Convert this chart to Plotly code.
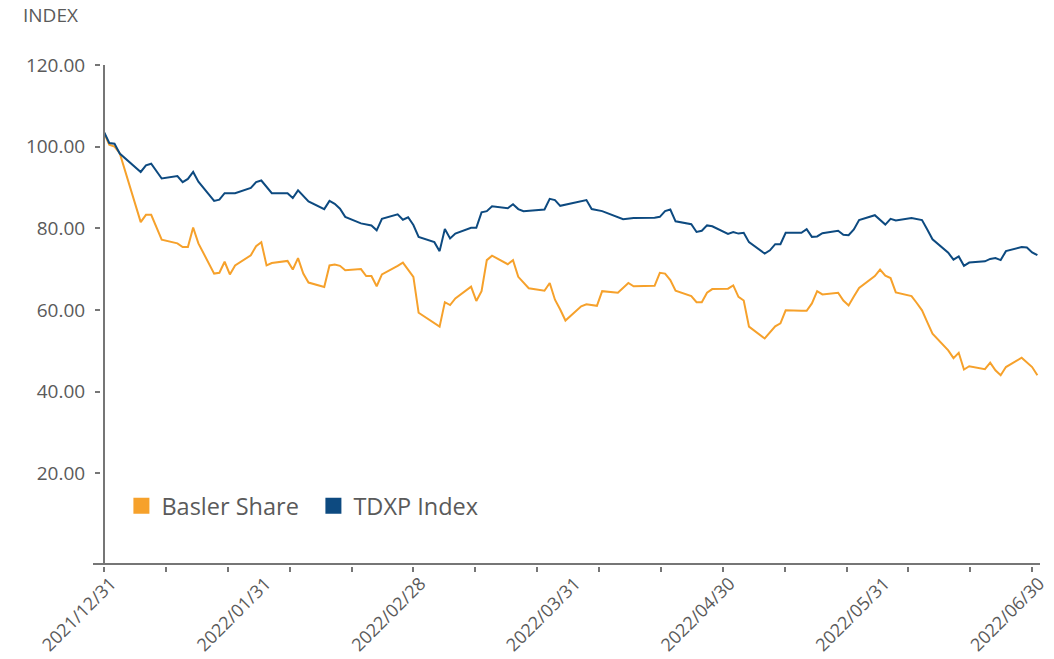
import pandas as pd
import plotly.graph_objects as go

# Basler share, indexed
basler_dates = [
    "2022-01-03", "2022-01-04", "2022-01-05", "2022-01-06", "2022-01-10", "2022-01-11", "2022-01-12",
    "2022-01-14", "2022-01-17", "2022-01-18", "2022-01-19", "2022-01-20", "2022-01-21", "2022-01-24",
    "2022-01-25", "2022-01-26", "2022-01-27", "2022-01-28", "2022-01-31", "2022-02-01", "2022-02-02",
    "2022-02-03", "2022-02-04", "2022-02-07", "2022-02-08", "2022-02-09", "2022-02-10", "2022-02-11",
    "2022-02-14", "2022-02-15", "2022-02-16", "2022-02-17", "2022-02-18", "2022-02-21", "2022-02-22",
    "2022-02-23", "2022-02-24", "2022-02-25", "2022-02-28", "2022-03-01", "2022-03-03", "2022-03-04",
    "2022-03-08", "2022-03-09", "2022-03-10", "2022-03-11", "2022-03-14", "2022-03-15", "2022-03-16",
    "2022-03-17", "2022-03-18", "2022-03-21", "2022-03-22", "2022-03-23", "2022-03-25", "2022-03-28",
    "2022-03-29", "2022-03-30", "2022-03-31", "2022-04-01", "2022-04-04", "2022-04-05", "2022-04-07",
    "2022-04-08", "2022-04-11", "2022-04-13", "2022-04-14", "2022-04-18", "2022-04-19", "2022-04-20",
    "2022-04-21", "2022-04-22", "2022-04-25", "2022-04-26", "2022-04-27", "2022-04-28", "2022-04-29",
    "2022-05-02", "2022-05-03", "2022-05-04", "2022-05-05", "2022-05-06", "2022-05-09", "2022-05-10",
    "2022-05-11", "2022-05-12", "2022-05-13", "2022-05-16", "2022-05-17", "2022-05-18", "2022-05-19",
    "2022-05-20", "2022-05-23", "2022-05-24", "2022-05-25", "2022-05-26", "2022-05-27", "2022-05-30",
    "2022-05-31", "2022-06-01", "2022-06-02", "2022-06-03", "2022-06-06", "2022-06-07", "2022-06-08",
    "2022-06-09", "2022-06-10", "2022-06-13", "2022-06-14", "2022-06-15", "2022-06-16", "2022-06-17",
    "2022-06-20", "2022-06-21", "2022-06-22", "2022-06-23", "2022-06-24", "2022-06-27", "2022-06-28",
    "2022-06-29", "2022-06-30",
]
basler_vals = [
    103.4, 100.5, 100.0, 98.4, 81.5, 83.3, 83.3,
    77.2, 76.3, 75.4, 75.4, 80.2, 76.3, 68.9,
    69.1, 71.8, 68.7, 70.9, 73.4, 75.6, 76.6,
    70.9, 71.5, 72.0, 69.9, 72.7, 68.9, 66.7,
    65.6, 70.9, 71.1, 70.8, 69.7, 70.0, 68.3,
    68.3, 65.8, 68.7, 70.8, 71.6, 68.1, 59.3,
    55.9, 61.9, 61.2, 62.8, 65.7, 62.2, 64.6,
    72.2, 73.3, 71.2, 72.2, 68.1, 65.3, 64.7,
    66.6, 62.5, 60.1, 57.4, 60.9, 61.4, 61.0,
    64.6, 64.2, 66.6, 65.8, 65.9, 69.1, 68.9,
    67.3, 64.7, 63.4, 61.9, 61.9, 64.2, 65.1,
    65.2, 66.0, 63.2, 62.3, 55.9, 53.0, 54.5,
    56.0, 56.7, 59.9, 59.8, 59.8, 61.6, 64.6,
    63.8, 64.2, 62.3, 61.1, 63.3, 65.4, 68.3,
    69.9, 68.4, 67.8, 64.3, 63.4, 61.7, 59.9,
    57.0, 54.2, 50.1, 48.2, 49.5, 45.4, 46.2,
    45.5, 47.1, 45.2, 44.0, 46.0, 48.3, 47.2,
    46.0, 44.0,
]

# TDXP index, indexed
tdxp_dates = [
    "2022-01-03", "2022-01-04", "2022-01-05", "2022-01-06", "2022-01-10", "2022-01-11", "2022-01-12",
    "2022-01-14", "2022-01-17", "2022-01-18", "2022-01-19", "2022-01-20", "2022-01-21", "2022-01-24",
    "2022-01-25", "2022-01-26", "2022-01-28", "2022-01-31", "2022-02-01", "2022-02-02", "2022-02-04",
    "2022-02-07", "2022-02-08", "2022-02-09", "2022-02-11", "2022-02-14", "2022-02-15", "2022-02-16",
    "2022-02-17", "2022-02-18", "2022-02-21", "2022-02-23", "2022-02-24", "2022-02-25", "2022-02-28",
    "2022-03-01", "2022-03-02", "2022-03-03", "2022-03-04", "2022-03-07", "2022-03-08", "2022-03-09",
    "2022-03-10", "2022-03-11", "2022-03-14", "2022-03-15", "2022-03-16", "2022-03-17", "2022-03-18",
    "2022-03-21", "2022-03-22", "2022-03-23", "2022-03-24", "2022-03-28", "2022-03-29", "2022-03-30",
    "2022-03-31", "2022-04-05", "2022-04-06", "2022-04-08", "2022-04-12", "2022-04-14", "2022-04-18",
    "2022-04-19", "2022-04-20", "2022-04-21", "2022-04-22", "2022-04-25", "2022-04-26", "2022-04-27",
    "2022-04-28", "2022-04-29", "2022-05-02", "2022-05-03", "2022-05-04", "2022-05-05", "2022-05-06",
    "2022-05-09", "2022-05-10", "2022-05-11", "2022-05-12", "2022-05-13", "2022-05-16", "2022-05-17",
    "2022-05-18", "2022-05-19", "2022-05-20", "2022-05-23", "2022-05-24", "2022-05-25", "2022-05-26",
    "2022-05-27", "2022-05-30", "2022-05-31", "2022-06-01", "2022-06-02", "2022-06-03", "2022-06-06",
    "2022-06-07", "2022-06-08", "2022-06-09", "2022-06-10", "2022-06-13", "2022-06-14", "2022-06-15",
    "2022-06-16", "2022-06-17", "2022-06-20", "2022-06-21", "2022-06-22", "2022-06-23", "2022-06-24",
    "2022-06-27", "2022-06-28", "2022-06-29", "2022-06-30",
]
tdxp_vals = [
    103.6, 100.9, 100.7, 98.3, 93.8, 95.4, 95.8,
    92.2, 92.8, 91.3, 92.1, 93.8, 91.4, 86.7,
    87.0, 88.6, 88.6, 89.9, 91.3, 91.7, 88.6,
    88.6, 87.4, 89.3, 86.6, 84.7, 86.7, 86.0,
    84.8, 82.8, 81.2, 80.7, 79.5, 82.3, 83.4,
    82.1, 82.7, 80.8, 77.9, 76.6, 74.4, 79.8,
    77.5, 78.7, 80.1, 80.1, 83.9, 84.2, 85.4,
    84.9, 85.9, 84.7, 84.2, 84.6, 87.2, 86.9,
    85.5, 86.9, 84.7, 84.2, 82.2, 82.5, 82.6,
    82.8, 84.2, 84.6, 81.7, 81.0, 79.1, 79.4,
    80.7, 80.5, 78.6, 79.1, 78.7, 78.9, 76.6,
    73.8, 74.6, 76.1, 76.1, 78.9, 78.9, 79.8,
    77.9, 78.0, 78.8, 79.4, 78.4, 78.3, 79.7,
    82.0, 83.2, 82.0, 80.9, 82.3, 81.9, 82.5,
    82.3, 82.0, 79.7, 77.3, 74.0, 72.3, 73.1,
    70.8, 71.6, 71.9, 72.5, 72.7, 72.2, 74.4,
    75.4, 75.3, 74.1, 73.4,
]

x_labels = ["2021/12/31", "2022/01/31", "2022/02/28", "2022/03/31",
            "2022/04/30", "2022/05/31", "2022/06/30"]
y_ticks = [20, 40, 60, 80, 100, 120]

ORANGE = "#f6a12b"
NAVY = "#0d4a80"
GREY = "#767676"
TEXT = "#5a5a5a"
FONT = "Open Sans"

# axis scaffolding: labels spread evenly along the axis, 15 short tick marks
start = pd.Timestamp(basler_dates[0])
span = pd.Timedelta(days=177)
label_pos = [start + span * i / 6 for i in range(7)]
tick_pos = [start + span * i / 15 for i in range(16)]
x_range = [start - pd.Timedelta(days=2.1), start + pd.Timedelta(days=178.5)]
y_range = [-2, 120]

fig = go.Figure()

fig.add_trace(go.Scatter(x=pd.to_datetime(basler_dates), y=basler_vals, mode="lines",
                         line=dict(color=ORANGE, width=2), showlegend=False, name="Basler Share"))
fig.add_trace(go.Scatter(x=pd.to_datetime(tdxp_dates), y=tdxp_vals, mode="lines",
                         line=dict(color=NAVY, width=2), showlegend=False, name="TDXP Index"))

# legend entries shown as squares
for name, col in [("Basler Share", ORANGE), ("TDXP Index", NAVY)]:
    fig.add_trace(go.Scatter(x=[None], y=[None], mode="markers", name=name,
                             marker=dict(symbol="square", size=16, color=col),
                             xaxis="x2", yaxis="y2"))

fig.update_layout(
    width=1054, height=659,
    margin=dict(l=93, r=14, t=65, b=93, autoexpand=False),
    paper_bgcolor="white", plot_bgcolor="white",
    font=dict(family=FONT, size=19, color=TEXT),
    xaxis=dict(
        type="date", range=x_range, domain=[0, 1], anchor="y", automargin=False,
        tickmode="array", tickvals=label_pos, ticktext=x_labels, tickangle=-45,
        ticks="", showline=True, linecolor=GREY, linewidth=2, showgrid=False,
        zeroline=False, ticklabelstandoff=1, ticklabelshift=7,
        tickfont=dict(size=18, color=TEXT),
    ),
    xaxis2=dict(
        type="date", range=x_range, overlaying="x", anchor="free", position=0,
        automargin=False,
        tickmode="array", tickvals=tick_pos, showticklabels=False,
        ticks="outside", ticklen=5, tickwidth=2, tickcolor=GREY,
        showline=False, showgrid=False, zeroline=False,
    ),
    yaxis=dict(
        range=y_range, domain=[3 / 501, 1], anchor="free", position=7 / 947,
        automargin=False,
        tickmode="array", tickvals=y_ticks, ticktext=[f"{v:.2f}" for v in y_ticks],
        ticks="outside", ticklen=5, tickwidth=2, tickcolor=GREY,
        showline=False, showgrid=False, zeroline=False, ticklabelstandoff=6,
        tickfont=dict(size=19, color=TEXT),
    ),
    yaxis2=dict(
        range=y_range, overlaying="y", anchor="free", position=11 / 947,
        automargin=False,
        showline=True, linecolor=GREY, linewidth=2, ticks="", showticklabels=False,
        showgrid=False, zeroline=False,
    ),
    legend=dict(orientation="h", x=0.03, y=0.12, xanchor="left", yanchor="middle",
                font=dict(size=23.5, color=TEXT), bgcolor="rgba(0,0,0,0)",
                itemwidth=30, entrywidth=147, tracegroupgap=0),
    annotations=[dict(text="INDEX", xref="paper", yref="paper", x=-72 / 947, y=1 + 49.5 / 501,
                      xanchor="left", yanchor="middle", showarrow=False,
                      font=dict(size=19, color=TEXT))],
)

# drop the browser's default page margin so the figure sits at the window origin
fig.write_html("out.html", config={"displayModeBar": False},
               post_script="document.body.style.margin='0';")
